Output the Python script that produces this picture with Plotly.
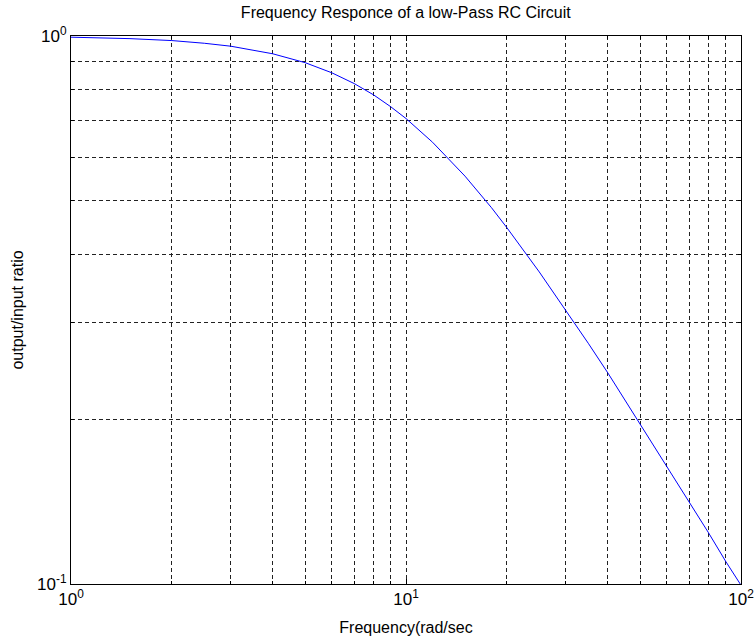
import plotly.graph_objects as go

# Values
freq = [1, 1.5, 2, 2.5, 3, 4, 5, 6, 7, 8, 9, 10, 12, 15, 18, 20, 25, 30, 35, 40, 50, 60, 70, 80, 90, 100]
ratio = [0.995, 0.989, 0.981, 0.970, 0.958, 0.928, 0.894, 0.857, 0.819, 0.781, 0.743, 0.707,
         0.640, 0.555, 0.486, 0.447, 0.371, 0.316, 0.275, 0.243, 0.196, 0.164, 0.141, 0.124, 0.110, 0.0995]

x_major = [1, 10, 100]
x_major_text = ["10<sup>0</sup>", "10<sup>1</sup>", "10<sup>2</sup>"]
x_minor = [2, 3, 4, 5, 6, 7, 8, 9, 20, 30, 40, 50, 60, 70, 80, 90]
y_major = [0.1, 1.0]
y_major_text = ["10<sup>-1</sup>", "10<sup>0</sup>"]
y_minor = [0.2, 0.3, 0.4, 0.5, 0.6, 0.7, 0.8, 0.9]

fig = go.Figure()
fig.add_trace(go.Scatter(x=freq, y=ratio, mode="lines",
                         line=dict(color="#0000ff", width=1), showlegend=False))

lab_font = "Liberation Sans, Arial, sans-serif"
grid_style = dict(showgrid=True, gridcolor="#222222", griddash="4px,3px", gridwidth=1)
axis_common = dict(
    type="log", **grid_style,
    showline=True, linecolor="black", linewidth=1, mirror="ticks",
    ticks="inside", ticklen=5, tickcolor="black", zeroline=False, automargin=False,
    tickfont=dict(family=lab_font, size=17, color="black"),
)
fig.update_layout(
    width=755, height=639,
    margin=dict(l=71, r=14, t=36, b=55),
    paper_bgcolor="white", plot_bgcolor="white",
    font=dict(family=lab_font, size=16, color="black"),
    title=dict(text="Frequency Responce of a low-Pass RC Circuit", x=0.5375, xanchor="center",
               y=0.981, yanchor="middle", font=dict(family=lab_font, size=16, color="black")),
    xaxis=dict(axis_common, range=[0, 2], tickmode="array", tickvals=x_major, ticktext=x_major_text,
               minor=dict(tickmode="array", tickvals=x_minor, ticks="inside", ticklen=3,
                          tickcolor="black", **grid_style),
               title=dict(text="Frequency(rad/sec", standoff=13, font=dict(family=lab_font, size=16))),
    yaxis=dict(axis_common, range=[-1, 0], tickmode="array", tickvals=y_major, ticktext=y_major_text,
               minor=dict(tickmode="array", tickvals=y_minor, ticks="inside", ticklen=3,
                          tickcolor="black", **grid_style),
               title=dict(text="output/input ratio", standoff=9, font=dict(family=lab_font, size=16))),
)
fig.write_html("out.html")
